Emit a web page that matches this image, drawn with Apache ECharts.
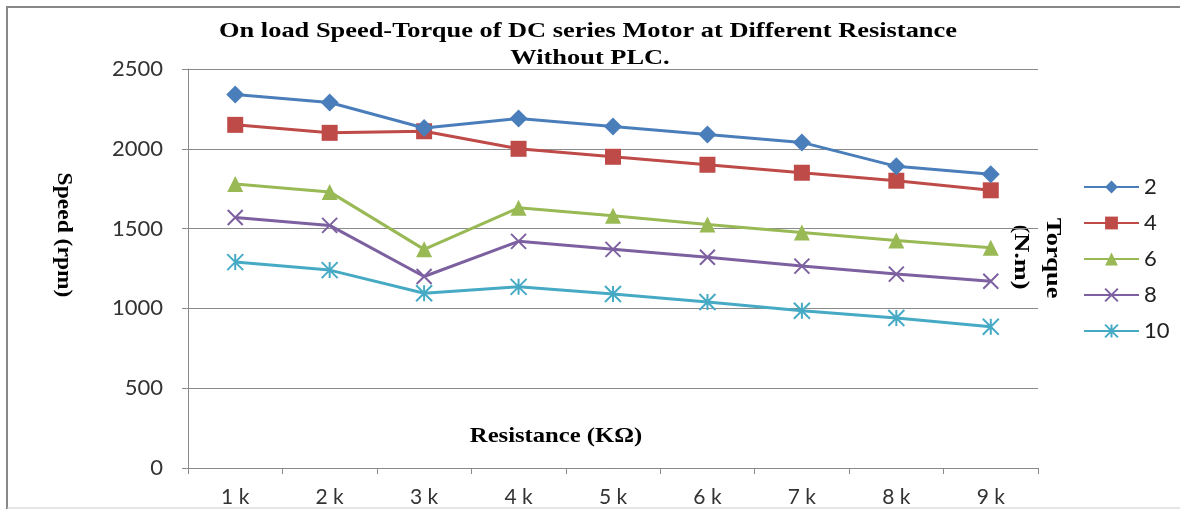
<!DOCTYPE html>
<html>
<head>
<meta charset="utf-8">
<script src="https://cdn.jsdelivr.net/npm/echarts@6/dist/echarts.min.js"></script>
<style>
html,body{margin:0;padding:0;background:#fff;}
#chart{width:1180px;height:509px;}
</style>
</head>
<body>
<div id="chart"></div>
<script>
const categories = ['1 k','2 k','3 k','4 k','5 k','6 k','7 k','8 k','9 k'];
const seriesNames = ['2','4','6','8','10'];
const s2  = [2340, 2290, 2130, 2190, 2140, 2090, 2040, 1890, 1840];
const s4  = [2150, 2100, 2110, 2000, 1950, 1900, 1850, 1800, 1740];
const s6  = [1780, 1730, 1370, 1630, 1580, 1525, 1475, 1425, 1380];
const s8  = [1570, 1520, 1200, 1420, 1370, 1320, 1265, 1215, 1170];
const s10 = [1290, 1240, 1095, 1135, 1090, 1040, 985, 940, 885];
const yTicks = [0, 500, 1000, 1500, 2000, 2500];

const colors = ['#4A7EBB','#BE4B48','#98B954','#7D60A0','#46AAC5'];
const symX = 'path://M0 0 L10 10 M10 0 L0 10';
const symStar = 'path://M5 0 L5 10 M0 0 L10 10 M10 0 L0 10';
const symbols = ['diamond','rect','triangle',symX,symStar];
const sizes = [18,16,16,15,16];
const dataAll = [s2,s4,s6,s8,s10];

const chart = echarts.init(document.getElementById('chart'), null, {renderer:'canvas'});
const series = dataAll.map((d,i)=>({
  name: seriesNames[i],
  type: 'line',
  data: d,
  symbol: symbols[i],
  symbolSize: sizes[i],
  showAllSymbol: true,
  lineStyle: {color: colors[i], width: 3},
  itemStyle: i>=3 ? {color: colors[i], borderColor: colors[i], borderWidth: 2} : {color: colors[i], borderWidth: 0},
  emphasis: {disabled: true},
  animation: false,
  z: 10 - i
}));

const serif = 'Liberation Serif';
chart.setOption({
  animation: false,
  backgroundColor: '#fff',
  grid: {left: 188, right: 142, top: 69, bottom: 41, containLabel: false},
  legend: {
    orient: 'vertical', left: 1078, top: 171,
    itemWidth: 55, itemHeight: 16, itemGap: 14,
    data: seriesNames,
    textStyle: {fontFamily: 'Lato', fontSize: 22, color: '#222'}
  },
  xAxis: {
    type: 'category', data: categories, boundaryGap: true,
    axisLine: {lineStyle: {color: '#8a8a8a', width: 1}},
    axisTick: {show: true, alignWithLabel: false, length: 6, lineStyle: {color: '#8a8a8a'}},
    axisLabel: {fontFamily: 'Lato', fontSize: 21, color: '#333', margin: 19},
    splitLine: {show: false}
  },
  yAxis: {
    type: 'value', min: 0, max: 2500, interval: 500,
    axisLine: {show: true, lineStyle: {color: '#8a8a8a', width: 1}},
    axisTick: {show: true, length: 6, lineStyle: {color: '#8a8a8a'}},
    axisLabel: {fontFamily: 'Lato', fontSize: 22, color: '#333', margin: 25,
      formatter: v => yTicks.includes(v) ? String(v) : ''},
    splitLine: {show: true, lineStyle: {color: '#8a8a8a', width: 1}}
  },
  graphic: [
    {type: 'line', shape: {x1: 7, y1: 7, x2: 1180, y2: 7}, style: {stroke: '#888', lineWidth: 2}, silent: true},
    {type: 'line', shape: {x1: 7, y1: 6, x2: 7, y2: 509}, style: {stroke: '#888', lineWidth: 2}, silent: true},
    {type: 'line', shape: {x1: 7, y1: 508, x2: 1180, y2: 508}, style: {stroke: '#ccc', lineWidth: 1}, silent: true},
    {type: 'text', x: 588, y: 31, scaleX: 1.2,
      style: {text: 'On load Speed-Torque of DC series Motor at Different Resistance', fontFamily: serif, fontWeight: 'bold', fontSize: 22, fill: '#000', align: 'center', verticalAlign: 'middle'}},
    {type: 'text', x: 590, y: 58, scaleX: 1.2,
      style: {text: 'Without PLC.', fontFamily: serif, fontWeight: 'bold', fontSize: 22, fill: '#000', align: 'center', verticalAlign: 'middle'}},
    {type: 'text', x: 63, y: 235, rotation: -Math.PI/2, scaleX: 1.12,
      style: {text: 'Speed (rpm)', fontFamily: serif, fontWeight: 'bold', fontSize: 21, fill: '#000', align: 'center', verticalAlign: 'middle'}},
    {type: 'text', x: 556, y: 436, scaleX: 1.12,
      style: {text: 'Resistance (KΩ)', fontFamily: serif, fontWeight: 'bold', fontSize: 22, fill: '#000', align: 'center', verticalAlign: 'middle'}},
    {type: 'text', x: 1053, y: 258, rotation: -Math.PI/2, scaleX: 1.2,
      style: {text: 'Torque', fontFamily: serif, fontWeight: 'bold', fontSize: 22, fill: '#000', align: 'center', verticalAlign: 'middle'}},
    {type: 'text', x: 1021, y: 257, rotation: -Math.PI/2, scaleX: 1.2,
      style: {text: '(N.m)', fontFamily: serif, fontWeight: 'bold', fontSize: 22, fill: '#000', align: 'center', verticalAlign: 'middle'}}
  ],
  series: series
});
</script>
</body>
</html>
